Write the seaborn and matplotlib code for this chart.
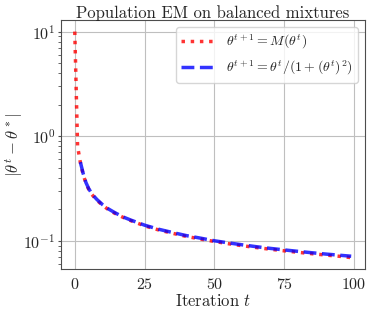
import numpy as np
import pandas as pd
import seaborn as sns
import matplotlib.pyplot as plt

# values (log scale)
t_em = [0, 1, 2, 3, 4, 5, 6, 7, 8, 10, 12, 14, 16, 18, 20, 25, 30, 35, 40, 45,
        50, 55, 60, 65, 70, 75, 80, 85, 90, 95, 99]
err_em = [10.0, 0.80, 0.56, 0.43, 0.355, 0.31, 0.28, 0.26, 0.243, 0.218, 0.199,
          0.185, 0.174, 0.164, 0.156, 0.139, 0.127, 0.118, 0.110, 0.104,
          0.0985, 0.0938, 0.0897, 0.0862, 0.0830, 0.0802, 0.0776, 0.0752,
          0.0730, 0.0710, 0.0690]

t_approx = [2, 3, 4, 5, 6, 7, 8, 10, 12, 14, 16, 18, 20, 25, 30, 35, 40, 45,
            50, 55, 60, 65, 70, 75, 80, 85, 90, 95, 99]
err_approx = [0.565, 0.44, 0.36, 0.315, 0.285, 0.264, 0.247, 0.221, 0.202,
              0.188, 0.176, 0.166, 0.158, 0.141, 0.129, 0.120, 0.112, 0.106,
              0.100, 0.0955, 0.0915, 0.0878, 0.0846, 0.0818, 0.0792, 0.0768,
              0.0746, 0.0727, 0.0712]

sns.set_style("whitegrid", {"axes.edgecolor": ".3", "ytick.left": True,
                            "grid.color": ".75"})
plt.rcParams["font.family"] = "serif"
plt.rcParams["font.serif"] = ["cmr10", "DejaVu Serif"]
plt.rcParams["mathtext.fontset"] = "cm"
plt.rcParams["axes.unicode_minus"] = True
plt.rcParams["axes.formatter.use_mathtext"] = True

df_em = pd.DataFrame({"t": t_em, "err": err_em})
df_ap = pd.DataFrame({"t": t_approx, "err": err_approx})

fig, ax = plt.subplots(figsize=(3.74, 3.12), dpi=100)
sns.lineplot(data=df_em, x="t", y="err", ax=ax, color="red", alpha=0.8,
             linestyle=":", linewidth=2.5, label=r"$\theta^{t+1} = M(\theta^t)$")
sns.lineplot(data=df_ap, x="t", y="err", ax=ax, color="blue", alpha=0.8,
             linestyle="--", linewidth=2.5,
             label=r"$\theta^{t+1} = \theta^t/(1+(\theta^t)^2)$")
ax.set_yscale("log")
ax.set_xticks([0, 25, 50, 75, 100])
ax.set_title("Population EM on balanced mixtures", fontsize=12, pad=2)
ax.set_xlabel(r"Iteration $t$", fontsize=12, labelpad=1)
ax.set_ylabel(r"$|\theta^t - \theta^*|$", fontsize=12)
ax.yaxis.set_label_coords(-0.118, 0.5)
ax.tick_params(labelsize=11.5, pad=2)
ax.tick_params(axis="y", which="major", length=2, color=".3")
ax.tick_params(axis="y", which="minor", left=True, length=2.5, color=".3")
ax.legend(loc="upper right", fontsize=10, labelspacing=0.55,
          handlelength=2.4, borderaxespad=0.5)

fig.subplots_adjust(left=0.163, right=0.976, top=0.935, bottom=0.138)
fig.savefig("out.png", dpi=100)
